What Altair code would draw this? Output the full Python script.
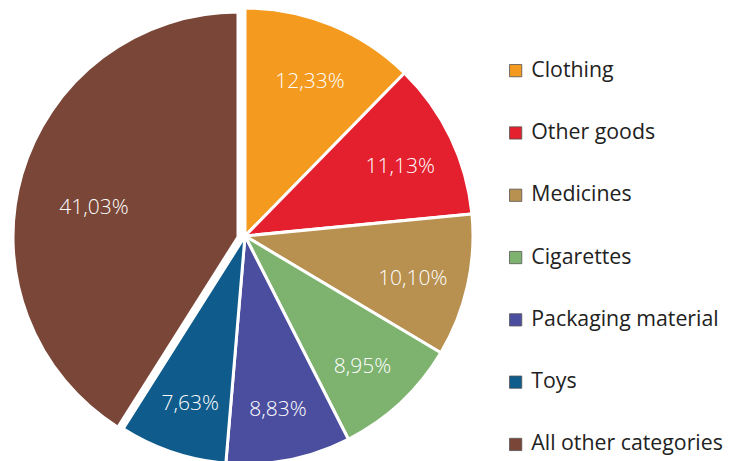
import math
import altair as alt
import pandas as pd

categories = ["Clothing", "Other goods", "Medicines", "Cigarettes",
              "Packaging material", "Toys", "All other categories"]
values = [12.33, 11.13, 10.10, 8.95, 8.83, 7.63, 41.03]
colors = ["#F39A1F", "#E4202F", "#B8904F", "#7DB36F", "#4B4E9F", "#0E5B8C", "#7A4637"]
labels = [f"{v:.2f}".replace(".", ",") + "%" for v in values]

df = pd.DataFrame({"category": categories, "value": values,
                   "label": labels, "idx": list(range(len(values)))})

FONT = "Open Sans"
theta_scale = alt.Scale(domain=[0, 100], range=[0, 2 * math.pi])
color = alt.Color(
    "category:N",
    scale=alt.Scale(domain=categories, range=colors),
    sort=categories,
    legend=alt.Legend(
        title=None, orient="none", legendX=497, legendY=52,
        symbolType="square", symbolSize=150, symbolStrokeColor="#555555",
        symbolStrokeWidth=0.8, labelFontSize=21.3, labelFont=FONT,
        labelColor="#222222", rowPadding=40.3, labelLimit=400, labelOffset=5,
    ),
)

base = alt.Chart(df).transform_window(
    cum="sum(value)", sort=[alt.SortField("idx")], frame=[None, 0]
).transform_calculate(
    start="datum.cum - datum.value", mid="datum.cum - datum.value / 2"
)

OTHER = "All other categories"
main = base.transform_filter(alt.datum.category != OTHER)
other = base.transform_filter(alt.datum.category == OTHER)

cx, cy, r = 237, 228, 228
bx, by, br = 230, 229, 225

arcs_main = main.mark_arc(outerRadius=r, stroke="white", strokeWidth=3).encode(
    theta=alt.Theta("start:Q", stack=None, scale=theta_scale),
    theta2="cum:Q", color=color, x=alt.value(cx), y=alt.value(cy),
)
arcs_other = other.mark_arc(outerRadius=br, stroke="white", strokeWidth=3).encode(
    theta=alt.Theta("start:Q", stack=None, scale=theta_scale),
    theta2="cum:Q", color=color, x=alt.value(bx), y=alt.value(by),
)
text_main = main.mark_text(radius=172, dy=5, fontSize=21, fontWeight=300,
                           color="white", font=FONT).encode(
    theta=alt.Theta("mid:Q", stack=None, scale=theta_scale),
    text="label:N", x=alt.value(cx), y=alt.value(cy),
)
text_other = other.mark_text(radius=150, dy=13, fontSize=21, fontWeight=300,
                             color="white", font=FONT).encode(
    theta=alt.Theta("mid:Q", stack=None, scale=theta_scale),
    text="label:N", x=alt.value(bx), y=alt.value(by),
)

chart = alt.layer(arcs_main, arcs_other, text_main, text_other).properties(
    width=721, height=453, padding=0, autosize="none"
).configure_view(stroke=None)

chart.save("out.html", embed_options={"renderer": "svg", "actions": False})
